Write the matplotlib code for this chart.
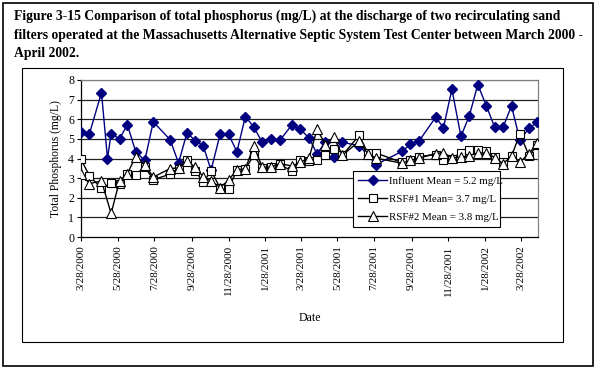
import matplotlib
matplotlib.use("Agg")
import matplotlib.pyplot as plt
from matplotlib.patches import Rectangle
import pandas as pd

# Influent total phosphorus (mg/L)
inf_dates = ["2000-03-28", "2000-04-11", "2000-05-01", "2000-05-11", "2000-05-17",
             "2000-05-31", "2000-06-13", "2000-06-27", "2000-07-12", "2000-07-26",
             "2000-08-23", "2000-09-06", "2000-09-20", "2000-10-04", "2000-10-17",
             "2000-10-30", "2000-11-14", "2000-11-28", "2000-12-12", "2000-12-26",
             "2001-01-09", "2001-01-23", "2001-02-06", "2001-02-21", "2001-03-13",
             "2001-03-27", "2001-04-11", "2001-04-24", "2001-05-08", "2001-05-22",
             "2001-06-05", "2001-07-03", "2001-07-31", "2001-09-12", "2001-09-26",
             "2001-10-10", "2001-11-07", "2001-11-20", "2001-12-04", "2001-12-19",
             "2002-01-02", "2002-01-16", "2002-01-30", "2002-02-13", "2002-02-27",
             "2002-03-13", "2002-03-27", "2002-04-11", "2002-04-25"]
influent = [5.35, 5.26, 7.36, 4.0, 5.26,
            5.0, 5.72, 4.33, 3.9, 5.87,
            4.96, 3.77, 5.31, 4.9, 4.65,
            3.4, 5.23, 5.23, 4.35, 6.14,
            5.6, 4.82, 4.97, 4.92, 5.7,
            5.5, 5.04, 4.23, 4.85, 4.06,
            4.82, 4.66, 3.69, 4.36, 4.72,
            4.87, 6.1, 5.57, 7.53, 5.13,
            6.18, 7.77, 6.7, 5.6, 5.6,
            6.68, 4.92, 5.55, 5.85]

# RSF#1 and RSF#2 effluent (same sampling dates)
rsf_dates = ["2000-03-28", "2000-04-11", "2000-05-01", "2000-05-17", "2000-05-31",
             "2000-06-13", "2000-06-27", "2000-07-12", "2000-07-26", "2000-08-23",
             "2000-09-06", "2000-09-20", "2000-10-04", "2000-10-17", "2000-10-30",
             "2000-11-14", "2000-11-28", "2000-12-12", "2000-12-26", "2001-01-09",
             "2001-01-23", "2001-02-06", "2001-02-21", "2001-03-13", "2001-03-27",
             "2001-04-11", "2001-04-24", "2001-05-08", "2001-05-22", "2001-06-05",
             "2001-07-03", "2001-07-17", "2001-07-31", "2001-09-12", "2001-09-26",
             "2001-10-10", "2001-11-07", "2001-11-20", "2001-12-04", "2001-12-19",
             "2002-01-02", "2002-01-16", "2002-01-30", "2002-02-13", "2002-02-27",
             "2002-03-13", "2002-03-27", "2002-04-11", "2002-04-25"]
rsf1 = [3.96, 3.12, 2.48, 2.75, 2.72,
        3.2, 3.18, 3.58, 2.92, 3.2,
        3.45, 3.92, 3.38, 2.78, 3.38,
        2.5, 2.47, 3.4, 3.47, 4.16,
        3.52, 3.55, 3.72, 3.35, 3.9,
        3.87, 3.92, 4.16, 4.5, 4.16,
        5.18, 4.3, 4.28, 3.8, 3.9,
        4.1, 4.2, 3.92, 4.0, 4.3,
        4.42, 4.42, 4.38, 4.1, 3.8,
        4.12, 5.26, 4.15, 4.67]
rsf2 = [3.23, 2.72, 2.86, 1.2, 2.86,
        3.23, 4.1, 3.68, 3.05, 3.49,
        3.52, 3.86, 3.56, 3.06, 2.85,
        2.52, 2.9, 3.43, 3.47, 4.65,
        3.56, 3.56, 3.74, 3.62, 3.8,
        4.04, 5.5, 4.7, 5.09, 4.16,
        4.88, 4.25, 4.02, 3.76, 3.9,
        4.02, 4.25, 4.3, 4.04, 4.06,
        4.15, 4.28, 4.28, 4.05, 3.74,
        4.12, 3.82, 4.25, 4.79]

tick_dates = ["2000-03-28", "2000-05-28", "2000-07-28", "2000-09-28", "2000-11-28",
              "2001-01-28", "2001-03-28", "2001-05-28", "2001-07-28", "2001-09-28",
              "2001-11-28", "2002-01-28", "2002-03-28"]
tick_labels = ["3/28/2000", "5/28/2000", "7/28/2000", "9/28/2000", "11/28/2000",
               "1/28/2001", "3/28/2001", "5/28/2001", "7/28/2001", "9/28/2001",
               "11/28/2001", "1/28/2002", "3/28/2002"]

plt.rcParams['font.family'] = ['Liberation Serif', 'DejaVu Serif']

fig = plt.figure(figsize=(5.97, 3.69), dpi=100)

# page frame and chart area frame
fig.add_artist(Rectangle((3/597, 3/369), 590/597, 363/369, transform=fig.transFigure,
                         fill=False, edgecolor='black', lw=1.2))
fig.add_artist(Rectangle((22/597, 1 - 342/369), 541/597, 274/369, transform=fig.transFigure,
                         fill=False, edgecolor='black', lw=0.8))

fig.text(14/597, 1 - 10/369,
         "Figure 3-15 Comparison of total phosphorus (mg/L) at the discharge of two recirculating sand\n"
         "filters operated at the Massachusetts Alternative Septic System Test Center between March 2000 -\n"
         "April 2002.",
         fontsize=9.8, fontweight='bold', va='top', ha='left', linespacing=1.55,
         transform=fig.transFigure)

ax = fig.add_axes([81/597, 1 - 237/369, 457/597, 157/369])

x_inf = pd.to_datetime(inf_dates)
x_rsf = pd.to_datetime(rsf_dates)

ax.plot(x_inf, influent, color='#000080', marker='D', markersize=5, lw=1.0,
        markerfacecolor='#000080', markeredgecolor='#000080',
        label='Influent Mean = 5.2 mg/L', zorder=3)
ax.plot(x_rsf, rsf1, color='black', marker='s', markersize=6, lw=1.0,
        markerfacecolor='white', markeredgecolor='black', markeredgewidth=0.8,
        label='RSF#1 Mean= 3.7 mg/L', zorder=4)
ax.plot(x_rsf, rsf2, color='black', marker='^', markersize=6.5, lw=1.0,
        markerfacecolor='white', markeredgecolor='black', markeredgewidth=0.8,
        label='RSF#2 Mean = 3.8 mg/L', zorder=5)

ax.set_ylim(0, 8)
ax.set_yticks(range(0, 9))
ax.set_xlim(pd.Timestamp("2000-03-28"), pd.Timestamp("2002-04-26"))
ax.set_xticks(pd.to_datetime(tick_dates))
ax.set_xticklabels(tick_labels, rotation=90, fontsize=8)
ax.tick_params(axis='y', labelsize=8.5, length=3, width=0.8, pad=2)
ax.tick_params(axis='x', length=3, width=0.8, pad=3)

for v in range(1, 9):
    ax.axhline(v, color='#202020' if v < 8 else '#808080', lw=0.9, zorder=1)

for s in ['top', 'right']:
    ax.spines[s].set_color('#808080')
    ax.spines[s].set_linewidth(0.9)
ax.spines['left'].set_linewidth(0.9)
ax.spines['bottom'].set_linewidth(0.9)

ax.set_ylabel('Total Phosphorus (mg/L)', fontsize=8.4, labelpad=4)
ax.set_xlabel('Date', fontsize=8.5, labelpad=12)

leg = ax.legend(loc='lower left', bbox_to_anchor=((353 - 81)/457, (237 - 227)/157,
                                                     (500 - 353)/457, 60/157),
                mode='expand', fontsize=7.8, frameon=True, fancybox=False,
                edgecolor='black', framealpha=1, borderaxespad=0, handlelength=2.6,
                labelspacing=0.75, handletextpad=0.2, borderpad=0.5)
leg.get_frame().set_linewidth(0.8)
leg.set_zorder(10)

fig.savefig("out.png", dpi=100)
